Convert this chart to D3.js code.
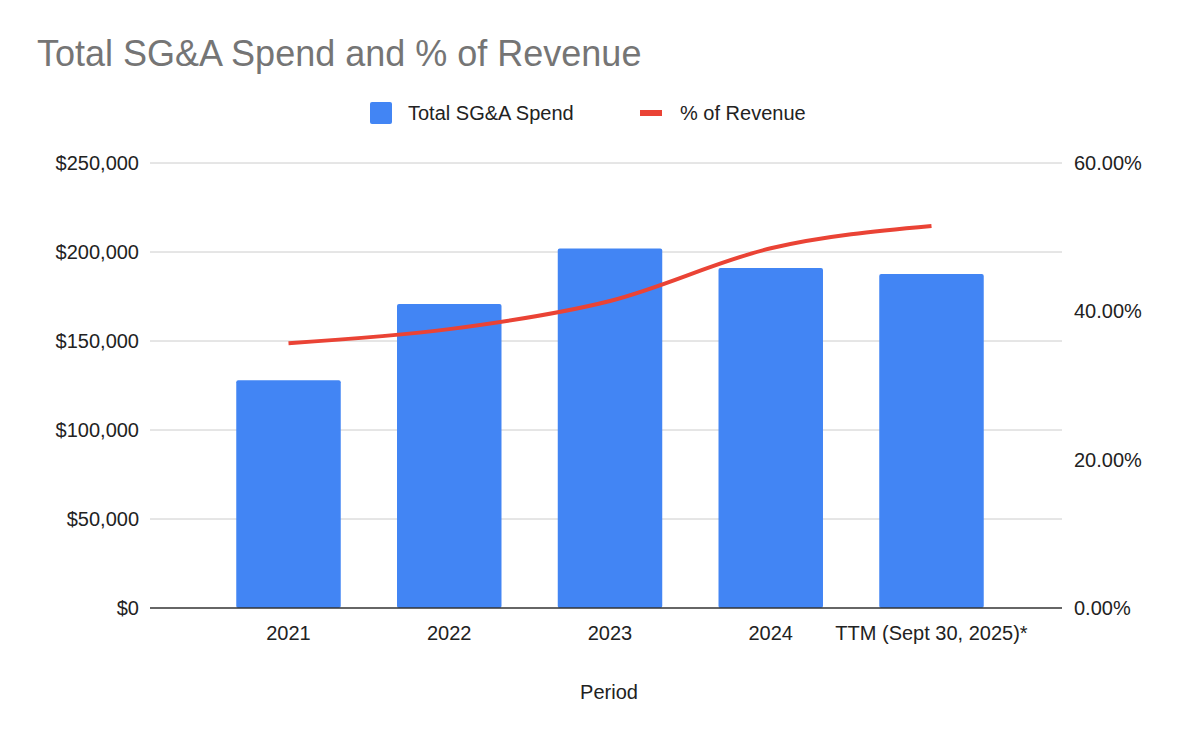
<!DOCTYPE html>
<html><head><meta charset="utf-8">
<script src="https://cdn.jsdelivr.net/npm/d3@7"></script>
<style>body{margin:0;background:#fff}text{font-family:Arial,"Liberation Sans",sans-serif}</style>
</head><body><div id="chart"></div>
<script>
// Values
const periods = ['2021', '2022', '2023', '2024', 'TTM (Sept 30, 2025)*'];
const sgaSpend = [128000, 170800, 202000, 191000, 187600];
const pctRevenue = [0.357, 0.376, 0.414, 0.485, 0.515];
const leftTicks = [0, 50000, 100000, 150000, 200000, 250000];
const rightTicks = [0, 0.2, 0.4, 0.6];

const width = 1200, height = 742;
const plotLeft = 150, plotRight = 1062, plotTop = 163, plotBottom = 608;

const svg = d3.select('#chart').append('svg')
  .attr('width', width).attr('height', height);

const x = d3.scaleBand().domain(periods).range([180, 1040]).padding(0.35);
const yL = d3.scaleLinear().domain([0, 250000]).range([plotBottom, plotTop]);
const yR = d3.scaleLinear().domain([0, 0.6]).range([plotBottom, plotTop]);

// Title
svg.append('text').attr('x', 37).attr('y', 66)
  .attr('font-size', 36).attr('fill', '#757575').text('Total SG&A Spend and % of Revenue');

// Legend
svg.append('rect').attr('x', 370).attr('y', 102).attr('width', 22).attr('height', 22)
  .attr('rx', 2).attr('fill', '#4285f4');
svg.append('text').attr('x', 408).attr('y', 120).attr('font-size', 20).attr('fill', '#222')
  .text('Total SG&A Spend');
svg.append('rect').attr('x', 640).attr('y', 110).attr('width', 22).attr('height', 6)
  .attr('fill', '#ea4335');
svg.append('text').attr('x', 680).attr('y', 120).attr('font-size', 20).attr('fill', '#222')
  .text('% of Revenue');

// Gridlines
svg.append('g').selectAll('line').data(leftTicks.slice(1)).join('line')
  .attr('x1', plotLeft).attr('x2', plotRight)
  .attr('y1', d => yL(d)).attr('y2', d => yL(d))
  .attr('stroke', '#cccccc').attr('stroke-width', 1);

// Left axis labels
svg.append('g').selectAll('text').data(leftTicks).join('text')
  .attr('x', 139).attr('y', d => yL(d) + 7).attr('text-anchor', 'end')
  .attr('font-size', 20).attr('fill', '#222')
  .text(d => '$' + d3.format(',')(d));

// Right axis labels
svg.append('g').selectAll('text').data(rightTicks).join('text')
  .attr('x', 1074).attr('y', d => yR(d) + 7)
  .attr('font-size', 20).attr('fill', '#222')
  .text(d => d3.format('.2%')(d));

// Bars
svg.append('g').selectAll('rect').data(periods).join('rect')
  .attr('x', d => x(d)).attr('width', x.bandwidth())
  .attr('y', (d, i) => yL(sgaSpend[i]))
  .attr('height', (d, i) => yL(0) - yL(sgaSpend[i]))
  .attr('rx', 2).attr('fill', '#4285f4');

// Baseline
svg.append('line').attr('x1', plotLeft).attr('x2', plotRight)
  .attr('y1', plotBottom).attr('y2', plotBottom).attr('stroke', '#333').attr('stroke-width', 1.5);

// X labels
svg.append('g').selectAll('text').data(periods).join('text')
  .attr('x', d => x(d) + x.bandwidth() / 2).attr('y', 640).attr('text-anchor', 'middle')
  .attr('font-size', 20).attr('fill', '#222').text(d => d);

svg.append('text').attr('x', 609).attr('y', 699).attr('text-anchor', 'middle')
  .attr('font-size', 20).attr('fill', '#222').text('Period');

// Line
const line = d3.line()
  .x((d, i) => x(periods[i]) + x.bandwidth() / 2)
  .y(d => yR(d))
  .curve(d3.curveMonotoneX);
svg.append('path').datum(pctRevenue).attr('d', line)
  .attr('fill', 'none').attr('stroke', '#ea4335').attr('stroke-width', 4);
</script></body></html>
